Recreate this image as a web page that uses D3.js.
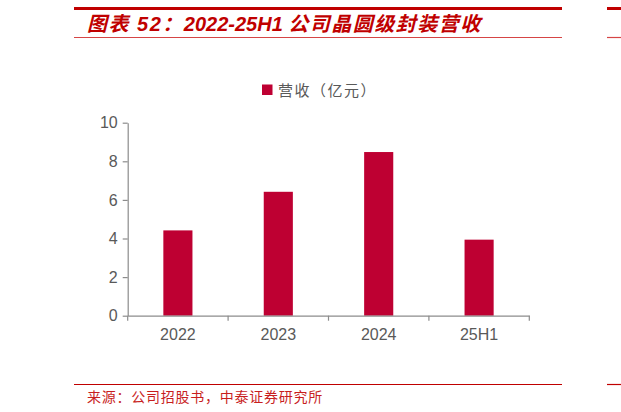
<!DOCTYPE html>
<html><head><meta charset="utf-8">
<script src="https://cdn.jsdelivr.net/npm/d3@7"></script>
<style>
html,body{margin:0;padding:0;background:#fff;overflow:hidden;}
svg{display:block;}
</style></head>
<body>
<script>
const categories = ["2022", "2023", "2024", "25H1"];
const revenue = [4.42, 6.42, 8.48, 3.94];
const yTicks = [0, 2, 4, 6, 8, 10];
const seriesName = "营收（亿元）";
const titleParts = ["图表 52：", "2022-25H1 ", "公司晶圆级封装营收"];
const sourceText = "来源：公司招股书，中泰证券研究所";

const W = 621, H = 412;
const svg = d3.select("body").append("svg").attr("width", W).attr("height", H);
const RED = "#c00000";
const BAR = "#be0032";
const AX = "#8c8c8c";
const LBL = "#595959";
const FONT = "'Liberation Sans', Arial, 'Noto Sans CJK SC', sans-serif";

// header lines
svg.append("rect").attr("x", 74).attr("y", 7).attr("width", 488).attr("height", 3).attr("fill", RED);
svg.append("rect").attr("x", 607).attr("y", 7).attr("width", 14).attr("height", 3).attr("fill", RED);
svg.append("line").attr("x1", 74).attr("x2", 562).attr("y1", 37.5).attr("y2", 37.5).attr("stroke", "#d64545").attr("stroke-width", 1.2);
svg.append("line").attr("x1", 607).attr("x2", 621).attr("y1", 37.5).attr("y2", 37.5).attr("stroke", "#d64545").attr("stroke-width", 1.2);
const tt = svg.append("text").attr("x", 87).attr("y", 31).attr("fill", RED)
  .attr("font-family", FONT).attr("font-size", 20).attr("font-weight", "bold").attr("font-style", "italic");
tt.selectAll("tspan").data(titleParts).join("tspan")
  .attr("letter-spacing", (d, i) => i === 1 ? 0 : 1.5)
  .text(d => d);

// footer
svg.append("line").attr("x1", 74).attr("x2", 562).attr("y1", 384.5).attr("y2", 384.5).attr("stroke", RED).attr("stroke-width", 1.2);
svg.append("line").attr("x1", 607).attr("x2", 621).attr("y1", 384.5).attr("y2", 384.5).attr("stroke", RED).attr("stroke-width", 1.2);
svg.append("text").attr("x", 87).attr("y", 401.5).attr("fill", "#c81e1e")
  .attr("font-family", "'Noto Sans CJK SC', sans-serif").attr("font-size", 14).attr("letter-spacing", 0.75)
  .text(sourceText);

// scales
const x = d3.scaleBand().domain(categories).range([127.7, 529.3]).paddingInner(0.71).paddingOuter(0.355);
const y = d3.scaleLinear().domain([0, 10]).range([315.7, 122.7]);

// bars
svg.append("g").selectAll("rect").data(categories).join("rect")
  .attr("x", d => x(d)).attr("width", x.bandwidth())
  .attr("y", (d, i) => y(revenue[i])).attr("height", (d, i) => y(0) - y(revenue[i]))
  .attr("fill", BAR);

// y axis
const ya = svg.append("g").attr("transform", `translate(${127.7},0)`)
  .call(d3.axisLeft(y).tickValues(yTicks).tickSize(5).tickPadding(5).tickSizeOuter(0));
ya.select(".domain").attr("stroke", AX).attr("stroke-width", 1.2);
ya.selectAll(".tick line").attr("stroke", AX).attr("stroke-width", 1.2);
ya.selectAll(".tick text").attr("fill", LBL).attr("font-family", FONT).attr("font-size", 16);

// x axis
const xa = svg.append("g").attr("transform", `translate(0,${315.7})`)
  .call(d3.axisBottom(x).tickSize(0).tickPadding(13).tickSizeOuter(0));
xa.select(".domain").attr("stroke", AX).attr("stroke-width", 1.2);
xa.selectAll(".tick text").attr("fill", LBL).attr("font-family", FONT).attr("font-size", 16);
const step = x.step();
const bounds = categories.map(c => x(c) - x.paddingInner() * step / 2).concat([x(categories[categories.length - 1]) + x.bandwidth() + x.paddingInner() * step / 2]);
xa.selectAll(".bound").data(bounds).join("line").attr("class", "bound")
  .attr("x1", d => d).attr("x2", d => d).attr("y1", 0).attr("y2", 5)
  .attr("stroke", AX).attr("stroke-width", 1.2);

// legend
const lg = svg.append("g");
lg.append("rect").attr("x", 262).attr("y", 84.5).attr("width", 10.5).attr("height", 10.5).attr("fill", BAR);
lg.append("text").attr("x", 278).attr("y", 95.5).attr("fill", LBL)
  .attr("font-family", "'Noto Sans CJK SC', sans-serif").attr("font-size", 15).attr("letter-spacing", 1.5).text(seriesName);
</script>
</body></html>
